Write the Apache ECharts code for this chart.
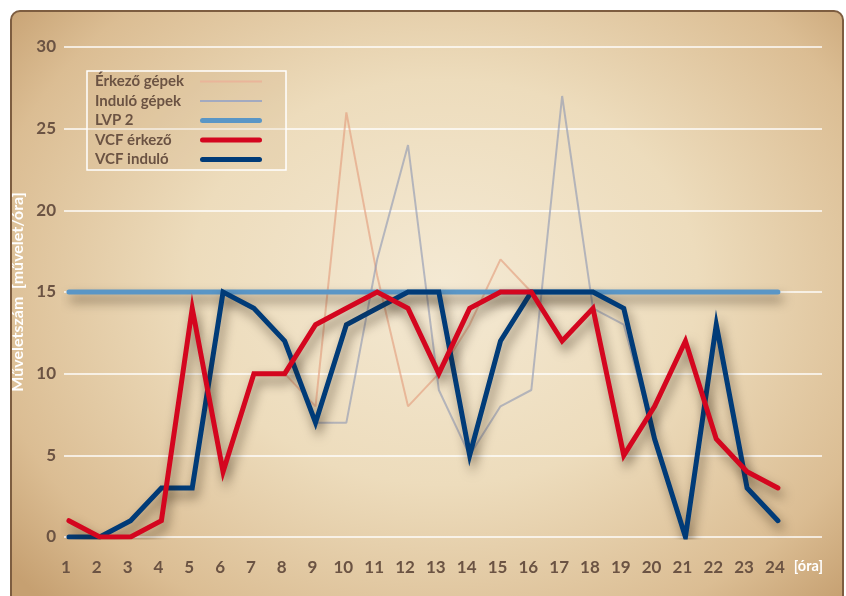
<!DOCTYPE html>
<html lang="hu">
<head>
    <meta charset="UTF-8">
    <title>VCF műveletszám</title>
    <style>
        html, body {
            margin: 0;
            padding: 0;
            background: #ffffff;
        }
        .frame {
            position: absolute;
            left: 10px;
            top: 10px;
            width: 830px;
            height: 600px;
            border: 2px solid #7d5d40;
            border-radius: 10px;
            background: radial-gradient(ellipse 68% 75% at 52% 45%, #f4e9d3 0%, #eddcbc 45%, #dbbd93 82%, #c6a071 100%);
        }
        #chart {
            position: absolute;
            left: 0;
            top: 0;
            width: 846px;
            height: 596px;
        }
    </style>
</head>
<body>
<div class="frame"></div>
<div id="chart"></div>

<script src="https://cdn.jsdelivr.net/npm/echarts@6.0.0/dist/echarts.min.js"></script>
<script>
    // órák és műveletszámok
    let hours = [1, 2, 3, 4, 5, 6, 7, 8, 9, 10, 11, 12, 13, 14, 15, 16, 17, 18, 19, 20, 21, 22, 23, 24];
    let erkezoGepek = [1, 0, 0, 1, 14, 4, 10, 10, 8, 26, 16, 8, 10, 13, 17, 15, 12, 14, 5, 8, 12, 6, 4, 3];
    let induloGepek = [0, 0, 1, 3, 3, 15, 14, 12, 7, 7, 17, 24, 9, 5, 8, 9, 27, 14, 13, 6, 0, 13, 3, 1];
    let lvp2 = [15, 15, 15, 15, 15, 15, 15, 15, 15, 15, 15, 15, 15, 15, 15, 15, 15, 15, 15, 15, 15, 15, 15, 15];
    let vcfErkezo = [1, 0, 0, 1, 14, 4, 10, 10, 13, 14, 15, 14, 10, 14, 15, 15, 12, 14, 5, 8, 12, 6, 4, 3];
    let vcfIndulo = [0, 0, 1, 3, 3, 15, 14, 12, 7, 13, 14, 15, 15, 5, 12, 15, 15, 15, 14, 6, 0, 13, 3, 1];
    let yTicks = [0, 5, 10, 15, 20, 25, 30];

    const pairs = arr => arr.map((v, i) => [hours[i], v]);
    const textColor = '#6b5343';
    const fontName = 'Lato';
    const thinIcon = 'path://M0,0H62V2H0Z';
    const thickIcon = 'path://M2.5,0H59.5A2.5,2.5,0,0,1,59.5,5H2.5A2.5,2.5,0,0,1,2.5,0Z';

    let shadow = {
        shadowColor: 'rgba(40, 25, 10, 0.55)',
        shadowBlur: 11,
        shadowOffsetX: 3,
        shadowOffsetY: 7
    };

    let chart = echarts.init(document.getElementById('chart'), null, {renderer: 'canvas'});

    let option = {
        backgroundColor: 'transparent',
        animation: false,
        textStyle: {fontFamily: fontName},
        grid: {
            left: 64,
            right: 24,
            top: 47,
            bottom: 59
        },
        legend: {
            orient: 'vertical',
            left: 87,
            top: 71,
            align: 'right',
            padding: [2, 24, 2, 8],
            itemWidth: 62,
            itemHeight: 10,
            itemGap: 2.5,
            borderColor: '#ffffff',
            borderWidth: 1.5,
            backgroundColor: 'rgba(205, 170, 125, 0.18)',
            data: [
                {name: 'Érkező gépek', icon: thinIcon},
                {name: 'Induló gépek', icon: thinIcon},
                {name: 'LVP 2', icon: thickIcon},
                {name: 'VCF érkező', icon: thickIcon},
                {name: 'VCF induló', icon: thickIcon}
            ],
            formatter: name => '{t|' + name + '}',
            textStyle: {
                fontWeight: 'bold',
                fontSize: 15,
                color: textColor,
                rich: {
                    t: {
                        width: 100,
                        height: 17,
                        lineHeight: 17,
                        align: 'left',
                        fontFamily: fontName,
                        fontWeight: 'bold',
                        fontSize: 15,
                        color: textColor
                    }
                }
            }
        },
        graphic: [{
            type: 'text',
            right: 23,
            top: 559,
            style: {
                text: '[óra]',
                fill: '#ffffff',
                font: 'bold 14.5px Lato'
            }
        }],
        xAxis: {
            type: 'value',
            min: 0.84,
            max: 25.43,
            axisLine: {show: false},
            axisTick: {show: false},
            splitLine: {show: false},
            axisLabel: {
                customValues: hours,
                margin: 22,
                color: textColor,
                fontWeight: 'bold',
                fontSize: 17,
                fontFamily: fontName,
                padding: [0, 6, 0, 0]
            }
        },
        yAxis: {
            type: 'value',
            min: 0,
            max: 30,
            interval: 5,
            name: 'Műveletszám  [művelet/óra]',
            nameLocation: 'middle',
            nameGap: 36,
            nameTextStyle: {
                color: '#ffffff',
                fontWeight: 'bold',
                fontSize: 16,
                fontFamily: fontName
            },
            axisLine: {show: false},
            axisTick: {show: false},
            axisLabel: {
                customValues: yTicks,
                margin: 8,
                color: textColor,
                fontWeight: 'bold',
                fontSize: 17,
                fontFamily: fontName
            },
            splitLine: {
                lineStyle: {color: 'rgba(255,255,255,0.95)', width: 1.5}
            }
        },
        series: [
            {
                name: 'Érkező gépek',
                type: 'line',
                symbol: 'none',
                data: pairs(erkezoGepek),
                itemStyle: {color: '#eab59a'},
                lineStyle: {width: 2, color: 'rgba(228, 160, 128, 0.65)'}
            },
            {
                name: 'Induló gépek',
                type: 'line',
                symbol: 'none',
                data: pairs(induloGepek),
                itemStyle: {color: '#a3aac0'},
                lineStyle: {width: 2, color: 'rgba(140, 150, 178, 0.6)'}
            },
            {
                name: 'LVP 2',
                type: 'line',
                symbol: 'none',
                data: pairs(lvp2),
                itemStyle: {color: '#5a96c6'},
                lineStyle: Object.assign({width: 5, color: '#5a96c6', cap: 'round'}, shadow)
            },
            {
                name: 'VCF induló',
                type: 'line',
                symbol: 'none',
                data: pairs(vcfIndulo),
                itemStyle: {color: '#003b78'},
                lineStyle: Object.assign({width: 5, color: '#003b78', cap: 'round', join: 'miter'}, shadow)
            },
            {
                name: 'VCF érkező',
                type: 'line',
                symbol: 'none',
                data: pairs(vcfErkezo),
                itemStyle: {color: '#d4061f'},
                lineStyle: Object.assign({width: 5, color: '#d4061f', cap: 'round', join: 'miter'}, shadow)
            }
        ]
    };

    chart.setOption(option);
</script>
</body>
</html>
